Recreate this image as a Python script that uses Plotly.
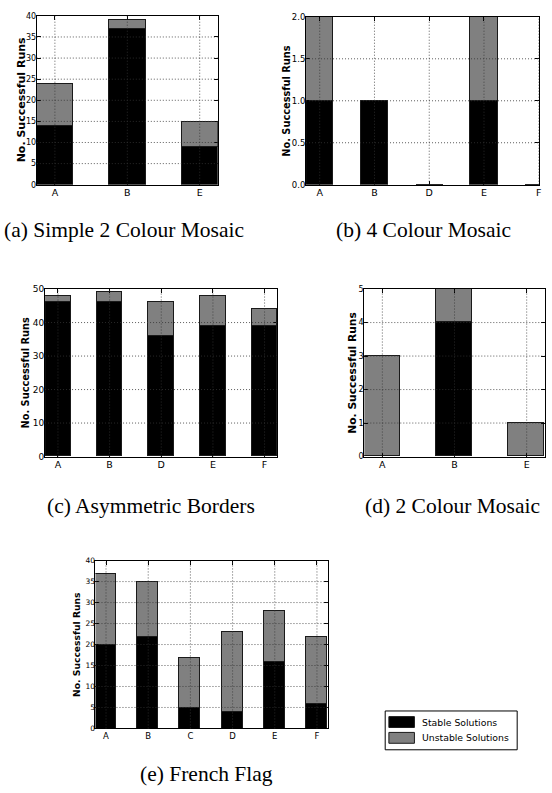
import plotly.graph_objects as go

W, H = 552, 793

# ---- data -------------------------------------------------------------
cats_a = ["A", "B", "E"]
stable_a = [14, 37, 9]
unstable_a = [10, 2, 6]
yticks_a = [0, 5, 10, 15, 20, 25, 30, 35, 40]

cats_b = ["A", "B", "D", "E", "F"]
stable_b = [1, 1, 0, 1, 0]
unstable_b = [1, 0, 0, 1, 0]
yticks_b = [0.0, 0.5, 1.0, 1.5, 2.0]

cats_c = ["A", "B", "D", "E", "F"]
stable_c = [46, 46, 36, 39, 39]
unstable_c = [2, 3, 10, 9, 5]
yticks_c = [0, 10, 20, 30, 40, 50]

cats_d = ["A", "B", "E"]
stable_d = [0, 4, 0]
unstable_d = [3, 1, 1]
yticks_d = [0, 1, 2, 3, 4, 5]

cats_e = ["A", "B", "C", "D", "E", "F"]
stable_e = [20, 22, 5, 4, 16, 6]
unstable_e = [17, 13, 12, 19, 12, 16]
yticks_e = [0, 5, 10, 15, 20, 25, 30, 35, 40]

captions = [
    "(a) Simple 2 Colour Mosaic",
    "(b) 4 Colour Mosaic",
    "(c) Asymmetric Borders",
    "(d) 2 Colour Mosaic",
    "(e) French Flag",
]
series_names = ["Stable Solutions", "Unstable Solutions"]
y_title = "No. Successful Runs"

# ---- styling / placement (pixel boxes of each axes) ----------------------
STABLE_COLOR = "#000000"
UNSTABLE_COLOR = "#808080"
EDGE_COLOR = "#1a1a1a"
BAR_WIDTH = 0.5

panels = [
    dict(cats=cats_a, stable=stable_a, unstable=unstable_a, yticks=yticks_a,
         box=(37, 219, 11, 182), xmax=None, fmt="d", ytick_size=8,
         xtick_size=9.5, title_size=11, title_x=21.2, cap_x=125, cap_y=228),
    dict(cats=cats_b, stable=stable_b, unstable=unstable_b, yticks=yticks_b,
         box=(307.7, 541.7, 12, 182), xmax=4.0, fmt=".1f", ytick_size=8.5,
         xtick_size=9.5, title_size=9.8, title_x=288.5, cap_x=426, cap_y=228),
    dict(cats=cats_c, stable=stable_c, unstable=unstable_c, yticks=yticks_c,
         box=(45.3, 279, 287.7, 457.3), xmax=None, fmt="d", ytick_size=9,
         xtick_size=9.5, title_size=9.8, title_x=25.8, cap_x=152, cap_y=507),
    dict(cats=cats_d, stable=stable_d, unstable=unstable_d, yticks=yticks_d,
         box=(366.3, 547.7, 287.7, 457.3), xmax=None, fmt="d", ytick_size=8,
         xtick_size=9.5, title_size=10.7, title_x=354.8, cap_x=455, cap_y=507),
    dict(cats=cats_e, stable=stable_e, unstable=unstable_e, yticks=yticks_e,
         box=(96, 329.3, 562.7, 732.7), xmax=None, fmt="d", ytick_size=7.5,
         xtick_size=8.5, title_size=9.2, title_x=76.8, cap_x=208, cap_y=779),
]

fig = go.Figure()
shapes = []
annotations = []

GRID = dict(color="#333333", width=0.8, dash="1px,2px")

for i, p in enumerate(panels, start=1):
    sfx = "" if i == 1 else str(i)
    xa, ya = "x" + sfx, "y" + sfx
    n = len(p["cats"])
    xs = list(range(n))

    fig.add_trace(go.Bar(
        x=xs, y=p["stable"], width=BAR_WIDTH, xaxis=xa, yaxis=ya,
        marker=dict(color=STABLE_COLOR, line=dict(color=EDGE_COLOR, width=1)),
        name=series_names[0], showlegend=False))
    fig.add_trace(go.Bar(
        x=xs, y=p["unstable"], width=BAR_WIDTH, xaxis=xa, yaxis=ya,
        marker=dict(color=UNSTABLE_COLOR, line=dict(color=EDGE_COLOR, width=1)),
        name=series_names[1], showlegend=False))

    x0, x1, top, bottom = p["box"]
    xmax = p["xmax"] if p["xmax"] is not None else (n - 1) + BAR_WIDTH / 2
    ymax = p["yticks"][-1]

    axis_common = dict(
        showline=True, linecolor="black", linewidth=1, mirror="allticks",
        ticks="inside", ticklen=4, tickwidth=1, tickcolor="black",
        showgrid=False, zeroline=False,
    )
    fig.layout["xaxis" + sfx] = dict(
        axis_common, domain=[x0 / W, x1 / W], anchor=ya,
        range=[-BAR_WIDTH / 2, xmax], ticklabelstandoff=-1,
        tickmode="array", tickvals=xs, ticktext=p["cats"],
        tickfont=dict(family="DejaVu Sans", size=p["xtick_size"],
                      color="black"),
    )
    fig.layout["yaxis" + sfx] = dict(
        axis_common, domain=[1 - bottom / H, 1 - top / H], anchor=xa,
        range=[0, ymax], tickmode="array", tickvals=p["yticks"],
        tickformat=p["fmt"], ticklabelstandoff=-2,
        tickfont=dict(family="DejaVu Sans", size=p["ytick_size"],
                      color="black"),
    )

    # dotted grid drawn over the bars
    for v in p["yticks"][1:-1]:
        shapes.append(dict(type="line", layer="above", xref=xa + " domain",
                           yref=ya, x0=0, x1=1, y0=v, y1=v, line=GRID))
    for v in xs:
        if v <= xmax:
            shapes.append(dict(type="line", layer="above", xref=xa,
                               yref=ya + " domain", x0=v, x1=v, y0=0, y1=1,
                               line=GRID))

    annotations.append(dict(
        text="<b>" + y_title + "</b>", textangle=-90, showarrow=False,
        xref="paper", yref="paper", x=p["title_x"] / W,
        y=1 - (top + bottom) / 2 / H, xanchor="center", yanchor="middle",
        font=dict(family="DejaVu Sans", size=p["title_size"], color="black")))
    annotations.append(dict(
        text=captions[i - 1], showarrow=False, xref="paper", yref="paper",
        x=p["cap_x"] / W, y=1 - p["cap_y"] / H, xanchor="center",
        yanchor="middle",
        font=dict(family="Liberation Serif", size=21.5, color="black")))

# legend box
LEG = dict(left=387.3, right=520, top=715, bottom=754.3)
shapes.append(dict(type="rect", xref="paper", yref="paper", layer="above",
                   x0=LEG["left"] / W, x1=LEG["right"] / W,
                   y0=1 - LEG["bottom"] / H, y1=1 - LEG["top"] / H,
                   line=dict(color="black", width=1), fillcolor="white"))
for k, (name, color) in enumerate(zip(series_names,
                                      [STABLE_COLOR, UNSTABLE_COLOR])):
    sy0 = 720.7 + k * 16
    sy1 = sy0 + 11
    shapes.append(dict(type="rect", xref="paper", yref="paper", layer="above",
                       x0=391 / W, x1=416.7 / W, y0=1 - sy1 / H, y1=1 - sy0 / H,
                       line=dict(color=EDGE_COLOR, width=1), fillcolor=color))
    annotations.append(dict(
        text=name, showarrow=False, xref="paper", yref="paper",
        x=422.7 / W, y=1 - (sy0 + sy1) / 2 / H, xanchor="left",
        yanchor="middle",
        font=dict(family="DejaVu Sans", size=9.3, color="black")))

fig.update_layout(
    width=W, height=H, margin=dict(l=0, r=0, t=0, b=0),
    paper_bgcolor="white", plot_bgcolor="white",
    barmode="stack", bargap=0, showlegend=False,
    shapes=shapes, annotations=annotations,
)

fig.write_html("out.html")
